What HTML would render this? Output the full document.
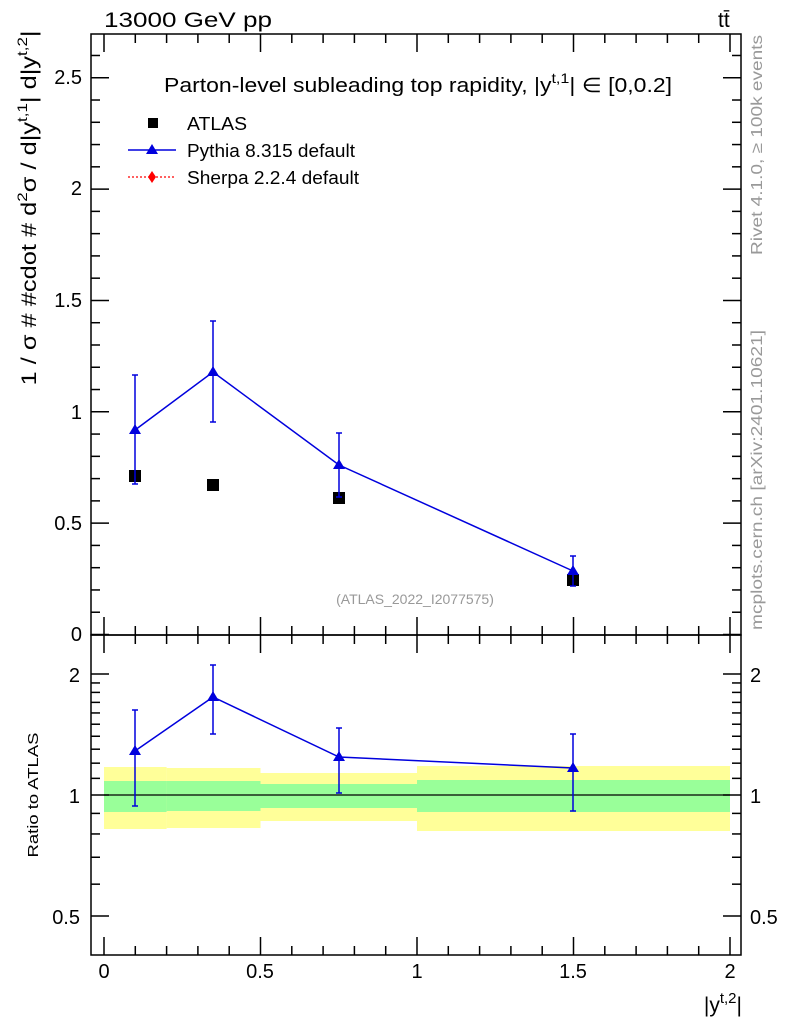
<!DOCTYPE html>
<html><head><meta charset="utf-8"><style>
body{margin:0;background:#fff}
svg{display:block;font-family:"Liberation Sans",sans-serif}
</style></head><body>
<svg id="s" width="786" height="1024" viewBox="0 0 786 1024" xmlns="http://www.w3.org/2000/svg">
<rect width="786" height="1024" fill="#fff"/>
<rect x="104" y="767" width="62.6" height="62" fill="#ffff99"/>
<rect x="166.6" y="768" width="93.9" height="60" fill="#ffff99"/>
<rect x="260.5" y="773" width="156.5" height="48" fill="#ffff99"/>
<rect x="417" y="766" width="313" height="65" fill="#ffff99"/>
<rect x="104" y="781" width="62.6" height="31" fill="#99ff99"/>
<rect x="166.6" y="781" width="93.9" height="30" fill="#99ff99"/>
<rect x="260.5" y="784" width="156.5" height="24" fill="#99ff99"/>
<rect x="417" y="780" width="313" height="32" fill="#99ff99"/>
<line x1="104" y1="795" x2="730" y2="795" stroke="#000" stroke-width="1.2"/>
<g id="ticks" stroke="#000" stroke-width="1.5"></g>
<rect x="91" y="34" width="650" height="601" fill="none" stroke="#000" stroke-width="1.5"/>
<rect x="91" y="635" width="650" height="320" fill="none" stroke="#000" stroke-width="1.5"/>
<g fill="#000">
<rect x="129" y="470" width="12" height="12"/>
<rect x="207" y="479" width="12" height="12"/>
<rect x="333" y="492" width="12" height="12"/>
<rect x="567" y="574" width="12" height="12"/>
</g>
<g stroke="#0000dd" stroke-width="1.5" fill="none">
<polyline points="135,430 213,372 339,465 573,571"/>
<path d="M135,375V484M132,375h6M132,484h6 M213,321V422M210,321h6M210,422h6 M339,433V497M336,433h6M336,497h6 M573,556V586M570,556h6M570,586h6"/>
<polyline points="135,751 213,697 339,757 573,768"/>
<path d="M135,710V806M132,710h6M132,806h6 M213,665V734M210,665h6M210,734h6 M339,728V793M336,728h6M336,793h6 M573,734V811M570,734h6M570,811h6"/>
</g>
<g fill="#0000dd">
<path d="M135,424l-6,10h12z"/><path d="M213,366l-6,10h12z"/><path d="M339,459l-6,10h12z"/><path d="M573,565l-6,10h12z"/>
<path d="M135,745l-6,10h12z"/><path d="M213,691l-6,10h12z"/><path d="M339,751l-6,10h12z"/><path d="M573,762l-6,10h12z"/>
</g>
<rect x="148" y="118" width="10" height="10" fill="#000"/>
<text x="187" y="130" font-size="18" textLength="60" lengthAdjust="spacingAndGlyphs">ATLAS</text>
<line x1="128" y1="150" x2="176" y2="150" stroke="#0000dd" stroke-width="1.5"/>
<path d="M152,144l-6,10h12z" fill="#0000dd"/>
<text x="187" y="157" font-size="18" textLength="168" lengthAdjust="spacingAndGlyphs">Pythia 8.315 default</text>
<line x1="128" y1="177" x2="176" y2="177" stroke="#f00" stroke-width="1.2" stroke-dasharray="2,2"/>
<path d="M152,171l-4,6l4,6l4,-6z" fill="#f00"/>
<text x="187" y="184" font-size="18" textLength="172" lengthAdjust="spacingAndGlyphs">Sherpa 2.2.4 default</text>
<text x="104" y="27" font-size="21" textLength="168" lengthAdjust="spacingAndGlyphs">13000 GeV pp</text>
<text x="718" y="27" font-size="21">tt̄</text>
<text x="164" y="92" font-size="20" textLength="508" lengthAdjust="spacingAndGlyphs">Parton-level subleading top rapidity, |y<tspan dy="-9" font-size="14">t,1</tspan><tspan dy="9">| ∈ [0,0.2]</tspan></text>
<text x="415" y="604" font-size="14" fill="#999" text-anchor="middle">(ATLAS_2022_I2077575)</text>
<g font-size="20" text-anchor="end">
<text x="82" y="84">2.5</text><text x="82" y="195">2</text><text x="82" y="307">1.5</text><text x="82" y="419">1</text><text x="82" y="530">0.5</text><text x="82" y="641">0</text>
<text x="80" y="682">2</text><text x="80" y="803">1</text><text x="80" y="924">0.5</text>
</g>
<g font-size="20" text-anchor="start">
<text x="750" y="682">2</text><text x="750" y="803">1</text><text x="750" y="924">0.5</text>
</g>
<g font-size="20" text-anchor="middle">
<text x="104" y="978">0</text><text x="260" y="978">0.5</text><text x="417" y="978">1</text><text x="573" y="978">1.5</text><text x="730" y="978">2</text>
</g>
<text x="742" y="1012" font-size="21" text-anchor="end">|y<tspan dy="-9" font-size="15">t,2</tspan><tspan dy="9">|</tspan></text>
<text transform="translate(36,208) rotate(-90)" font-size="21" text-anchor="middle" textLength="355" lengthAdjust="spacingAndGlyphs">1 / σ # #cdot # d<tspan dy="-9" font-size="14">2</tspan><tspan dy="9">σ / d|y</tspan><tspan dy="-9" font-size="14">t,1</tspan><tspan dy="9">| d|y</tspan><tspan dy="-9" font-size="14">t,2</tspan><tspan dy="9">|</tspan></text>
<text transform="translate(38,795) rotate(-90)" font-size="15" text-anchor="middle" textLength="125" lengthAdjust="spacingAndGlyphs">Ratio to ATLAS</text>
<text transform="translate(762,145) rotate(-90)" font-size="16" fill="#999" text-anchor="middle" textLength="220" lengthAdjust="spacingAndGlyphs">Rivet 4.1.0, ≥ 100k events</text>
<text transform="translate(762,480) rotate(-90)" font-size="16" fill="#999" text-anchor="middle" textLength="300" lengthAdjust="spacingAndGlyphs">mcplots.cern.ch [arXiv:2401.10621]</text>
</svg>
<script>
var g=document.getElementById('ticks'),h='';
function L(a,b,c,d){h+='<line x1="'+a+'" y1="'+b+'" x2="'+c+'" y2="'+d+'"/>';}
for(var i=0;i<=20;i++){var x=104+313*i/10,M=i%5==0,l=M?18:9;
 L(x,635,x,635-l);L(x,34,x,34+l);L(x,955,x,955-l);L(x,635,x,635+l);}
for(var i=0;i<=27;i++){var y=634.5-22.27*i,M=i%5==0,l=M?18:9;if(y<35)continue;
 L(91,y,91+l,y);L(741,y,741-l,y);}
var rv=[0.5,0.6,0.7,0.8,0.9,1,1.1,1.2,1.3,1.4,1.5,1.6,1.7,1.8,1.9,2];
rv.forEach(function(v){var y=795-121*Math.log(v)/Math.log(2),M=(v==0.5||v==1||v==2),l=M?18:9;
 L(91,y,91+l,y);L(741,y,741-l,y);});
g.innerHTML=h;
</script>
</body></html>
